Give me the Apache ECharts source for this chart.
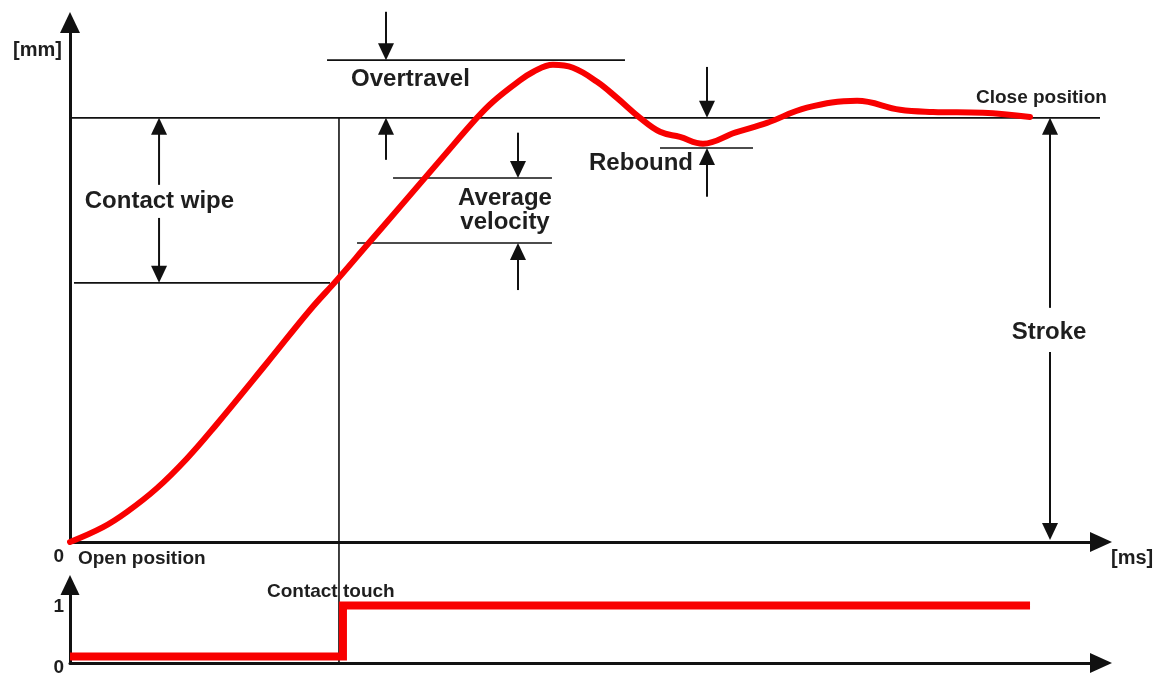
<!DOCTYPE html>
<html>
<head>
<meta charset="utf-8">
<script src="https://cdn.jsdelivr.net/npm/echarts@6/dist/echarts.min.js"></script>
<style>
html,body{margin:0;padding:0;background:#fff;}
#c{width:1159px;height:675px;}
</style>
</head>
<body>
<div id="c"></div>
<script>
// ---- data (time in arbitrary ms units, position in arbitrary mm units) ----
const curveTime = [0, 3.24, 5.59, 8.53, 11.47, 14.22, 19.31, 23.53, 26.18, 29.12, 32.35, 36.57, 39.9, 41.47, 43.82, 45.39, 47.35, 49.31, 51.67, 53.63, 55.88, 57.84, 59.8, 62.06, 65.2, 68.33, 72.25, 77.16, 81.37, 84.61, 89.51, 94.12];
const curvePos  = [0, 0.35, 0.71, 1.27, 1.97, 2.73, 4.22, 5.47, 6.18, 7.00, 7.90, 9.08, 10.0, 10.38, 10.83, 11.08, 11.25, 11.18, 10.85, 10.47, 10.0, 9.67, 9.55, 9.39, 9.65, 9.88, 10.24, 10.40, 10.19, 10.14, 10.12, 10.02];

// contact signal (0 = open, 1 = closed)
const signalTime  = [0, 26.76, 94.12];
const signalValue = [0.115, 1.015, 1.015];

const closePosition    = 10;
const contactTouchTime = 26.37;

// horizontal reference levels: [fromTime, toTime, level]
const guides = [
  [0, 100.98, 10],        // close position
  [0.39, 25.49, 6.11],    // contact wipe level
  [25.2, 54.41, 11.36],   // overtravel peak
  [31.67, 47.25, 8.58],   // average velocity upper
  [28.14, 47.25, 7.05],   // average velocity lower
  [57.84, 66.96, 9.29]    // rebound
];

// dimension arrows: [time, fromLevel, toLevel(tip)]
const arrows = [
  [8.73, 8.42, 10],
  [8.73, 7.64, 6.11],
  [30.98, 12.5, 11.36],
  [30.98, 9.01, 10],
  [43.92, 9.65, 8.58],
  [43.92, 5.94, 7.05],
  [62.45, 11.2, 10],
  [62.45, 8.14, 9.29],
  [96.08, 5.52, 10],
  [96.08, 4.48, 0.05]
];

const mainTickLabels   = {0: '0'};
const signalTickLabels = {0: '0', 1: '1'};

const mainLabels = ['Contact wipe', 'Overtravel', 'Average\nvelocity', 'Rebound', 'Close position', 'Stroke', 'Open position'];
const signalLabels = ['Contact touch'];

// ---- layout / style (not data) ----
const FONT = '"Liberation Sans", Arial, Helvetica, sans-serif';
const TXT = '#1e1e1e';
const INK = '#111';
const RED = '#f80000';

const mainLabelPlace = [
  {at: [8.77, 8.02], align: 'center', size: 24},
  {at: [33.38, 10.90], align: 'center', size: 24},
  {at: [42.65, 7.81], align: 'center', size: 24},
  {at: [61.08, 8.92], align: 'right', size: 24},
  {at: [88.82, 10.47], align: 'left', size: 19},
  {at: [95.98, 4.95], align: 'center', size: 24},
  {at: [0.78, -0.40], align: 'left', size: 19}
];
const signalLabelPlace = [
  {at: [19.31, 1.253], align: 'left', size: 19}
];

const chart = echarts.init(document.getElementById('c'), null, {renderer: 'canvas'});

function axisLineStyle(sz, off) {
  return {
    show: true, onZero: false,
    lineStyle: {color: INK, width: 3},
    symbol: ['none', 'triangle'],
    symbolSize: sz,
    symbolOffset: [0, off]
  };
}

function labelRender(texts, place) {
  return function (params, api) {
    const i = params.dataIndex;
    const p = api.coord([api.value(0), api.value(1)]);
    const pl = place[i];
    return {
      type: 'text', x: p[0], y: p[1],
      style: {
        text: texts[i], fill: TXT,
        font: 'bold ' + pl.size + 'px ' + FONT,
        align: pl.align, verticalAlign: 'middle',
        textAlign: pl.align, textVerticalAlign: 'middle',
        lineHeight: 24
      }
    };
  };
}

const option = {
  animation: false,
  backgroundColor: '#fff',
  grid: [
    {left: 70, top: 33, width: 1020, height: 509, containLabel: false, outerBoundsMode: 'none'},
    {left: 70, top: 595, width: 1020, height: 68, containLabel: false, outerBoundsMode: 'none'}
  ],
  xAxis: [
    {
      gridIndex: 0, type: 'value', min: 0, max: 100,
      axisLine: axisLineStyle([20, 22], 11),
      axisTick: {show: false}, axisLabel: {show: false}, splitLine: {show: false},
      name: '[ms]', nameLocation: 'end', nameGap: 21,
      nameTextStyle: {color: TXT, fontSize: 20, fontWeight: 'bold', fontFamily: FONT,
        align: 'left', verticalAlign: 'top', lineHeight: 32}
    },
    {
      gridIndex: 1, type: 'value', min: 0, max: 100,
      axisLine: axisLineStyle([20, 22], 11),
      axisTick: {show: false}, axisLabel: {show: false}, splitLine: {show: false}
    }
  ],
  yAxis: [
    {
      gridIndex: 0, type: 'value', min: 0, max: 12, interval: 12,
      axisLine: axisLineStyle([20, 21], 10.5),
      axisTick: {show: false}, splitLine: {show: false},
      axisLabel: {
        margin: 6,
        formatter: v => mainTickLabels[v] !== undefined ? '{z|' + mainTickLabels[v] + '}' : '',
        rich: {z: {fontSize: 19, fontWeight: 'bold', fontFamily: FONT, color: TXT, padding: [30, 0, 0, 0]}}
      },
      name: '[mm]', nameLocation: 'end', nameGap: -17,
      nameTextStyle: {color: TXT, fontSize: 20, fontWeight: 'bold', fontFamily: FONT,
        align: 'right', verticalAlign: 'middle', padding: [0, 8, 0, 0]}
    },
    {
      gridIndex: 1, type: 'value', min: 0, max: 1.2, interval: 1,
      axisLine: axisLineStyle([19, 20], 10),
      axisTick: {show: false}, splitLine: {show: false},
      axisLabel: {
        margin: 6,
        formatter: v => v === 0 ? '{z|' + signalTickLabels[0] + '}' : (v === 1 ? '{o|' + signalTickLabels[1] + '}' : ''),
        rich: {
          z: {fontSize: 19, fontWeight: 'bold', fontFamily: FONT, color: TXT, padding: [10, 0, 0, 0]},
          o: {fontSize: 19, fontWeight: 'bold', fontFamily: FONT, color: TXT}
        }
      }
    }
  ],
  series: [
    {
      name: 'guides', type: 'custom', xAxisIndex: 0, yAxisIndex: 0, silent: true, z: 2,
      data: guides, encode: {x: [0, 1], y: 2},
      renderItem: function (params, api) {
        const a = api.coord([api.value(0), api.value(2)]);
        const b = api.coord([api.value(1), api.value(2)]);
        return {type: 'line', shape: {x1: a[0], y1: a[1], x2: b[0], y2: b[1]},
          style: {stroke: INK, lineWidth: 1.6}};
      }
    },
    {
      name: 'arrows', type: 'custom', xAxisIndex: 0, yAxisIndex: 0, silent: true, z: 2,
      data: arrows, encode: {x: 0, y: [1, 2]},
      renderItem: function (params, api) {
        const x = api.value(0);
        const tail = api.coord([x, api.value(1)]);
        const tip = api.coord([x, api.value(2)]);
        const dir = tip[1] > tail[1] ? 1 : -1;
        const hh = 17, hw = 8;
        const base = tip[1] - dir * hh;
        return {type: 'group', children: [
          {type: 'line', shape: {x1: tail[0], y1: tail[1], x2: tip[0], y2: base + dir * 1},
            style: {stroke: INK, lineWidth: 2}},
          {type: 'polygon', shape: {points: [[tip[0], tip[1]], [tip[0] - hw, base], [tip[0] + hw, base]]},
            style: {fill: INK}}
        ]};
      }
    },
    {
      name: 'labels', type: 'custom', xAxisIndex: 0, yAxisIndex: 0, silent: true, z: 4,
      data: mainLabelPlace.map(d => d.at), encode: {x: 0, y: 1},
      renderItem: labelRender(mainLabels, mainLabelPlace)
    },
    {
      name: 'signalLabels', type: 'custom', xAxisIndex: 1, yAxisIndex: 1, silent: true, z: 4,
      data: signalLabelPlace.map(d => d.at), encode: {x: 0, y: 1},
      renderItem: labelRender(signalLabels, signalLabelPlace)
    },
    {
      name: 'position', type: 'line', xAxisIndex: 0, yAxisIndex: 0, z: 3,
      data: curveTime.map((t, i) => [t, curvePos[i]]),
      showSymbol: false, symbol: 'none', smooth: 0.4,
      lineStyle: {color: RED, width: 6, cap: 'round', join: 'round'}
    },
    {
      name: 'contact', type: 'line', xAxisIndex: 1, yAxisIndex: 1, z: 3,
      data: signalTime.map((t, i) => [t, signalValue[i]]),
      step: 'end', showSymbol: false, symbol: 'none',
      lineStyle: {color: RED, width: 8, cap: 'butt', join: 'miter'}
    }
  ]
};

chart.setOption(option);

// contact-touch marker spanning both plots, placed through the axes' scales
const pTop = chart.convertToPixel({gridIndex: 0}, [contactTouchTime, closePosition]);
const pBot = chart.convertToPixel({gridIndex: 1}, [contactTouchTime, 0]);
chart.setOption({
  graphic: [{
    type: 'line', z: 1, silent: true,
    shape: {x1: pTop[0], y1: pTop[1], x2: pBot[0], y2: pBot[1]},
    style: {stroke: INK, lineWidth: 1.6}
  }]
});
</script>
</body>
</html>
